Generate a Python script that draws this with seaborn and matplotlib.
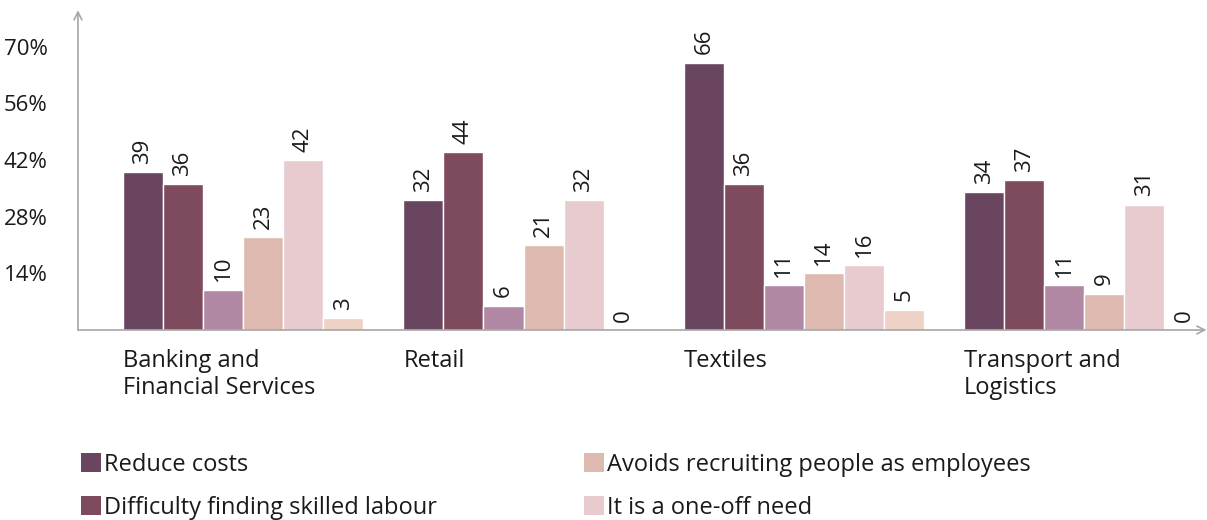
import numpy as np
import pandas as pd
import matplotlib
matplotlib.use("Agg")
import matplotlib.pyplot as plt
import seaborn as sns
from matplotlib.patches import Patch

# ── Data ──────────────────────────────────────────────────────────────────────
sectors = ["Banking and\nFinancial Services", "Retail", "Textiles", "Transport and\nLogistics"]
reasons = ["Reduce costs", "Difficulty finding skilled labour", "Lack of internal capacity",
           "Avoids recruiting people as employees", "It is a one-off need", "Other"]
reduce_costs = [39, 32, 66, 34]
skilled_labour = [36, 44, 36, 37]
internal_capacity = [10, 6, 11, 11]
avoids_recruiting = [23, 21, 14, 9]
one_off_need = [42, 32, 16, 31]
other = [3, 0, 5, 0]
yticks = [14, 28, 42, 56, 70]

colors = ["#6A4560", "#7D4A5E", "#B088A3", "#DDB9AF", "#E8CBCF", "#EDD2C5"]
legend_shown = [0, 1, 3, 4]

values = [reduce_costs, skilled_labour, internal_capacity,
          avoids_recruiting, one_off_need, other]
df = pd.DataFrame({
    "sector": np.repeat([sectors], len(reasons), axis=0).ravel(),
    "reason": np.repeat(reasons, len(sectors)),
    "value": np.concatenate(values),
})

sns.set_style("white")
FONT = ["Open Sans", "DejaVu Sans"]
plt.rcParams["font.family"] = FONT
TXT = "#1A1A1A"

fig = plt.figure(figsize=(12.07, 5.2), dpi=100)
ax = fig.add_axes([0.0646, 0.3654, 0.935, 0.615])

width = 0.857
sns.barplot(data=df, x="sector", y="value", hue="reason", order=sectors,
            hue_order=reasons, palette=colors, width=width, dodge=True,
            edgecolor="white", linewidth=1, saturation=1, legend=False, ax=ax)

for cont in ax.containers:
    ax.bar_label(cont, fmt="%d", rotation=90, padding=6, fontsize=16, color=TXT)

ax.set_xlim(-0.589, 3.436)
ax.set_ylim(0, 79)
ax.set_xlabel("")
ax.set_ylabel("")

# y ticks
ax.set_yticks(yticks)
ax.set_yticklabels([f"{t}%" for t in yticks], fontsize=16, color=TXT)
ax.tick_params(axis="y", direction="inout", length=10, width=1, color="#A6A6A6", pad=17)

# category labels left-aligned at each group's left edge
ax.set_xticks(np.arange(len(sectors)) - width / 2)
ax.set_xticklabels(sectors, ha="left", fontsize=17, color=TXT,
                   linespacing=1.15, va="top")
ax.tick_params(axis="x", length=0, pad=14)

for s in ax.spines.values():
    s.set_visible(False)

# axis lines with open arrowheads
arrow = dict(arrowstyle="->", color="#A6A6A6", lw=1.2, shrinkA=0, shrinkB=0,
             mutation_scale=14)
ax.annotate("", xy=(0, 1.0), xytext=(0, 0), xycoords="axes fraction",
            arrowprops=arrow, annotation_clip=False)
ax.annotate("", xy=(1.0, 0), xytext=(0, 0), xycoords="axes fraction",
            arrowprops=arrow, annotation_clip=False)

handles = [Patch(facecolor=colors[i], edgecolor="none") for i in legend_shown]
labels = [reasons[i] for i in legend_shown]
fig.legend(handles, labels, ncol=2, loc="upper left", bbox_to_anchor=(0.0575, 0.152),
           frameon=False, handlelength=0.85, handleheight=0.85,
           handletextpad=0.1, columnspacing=6.25, labelspacing=0.8, borderpad=0,
           prop={"family": FONT, "size": 17}, labelcolor=TXT)

fig.savefig("out.png", dpi=100)
